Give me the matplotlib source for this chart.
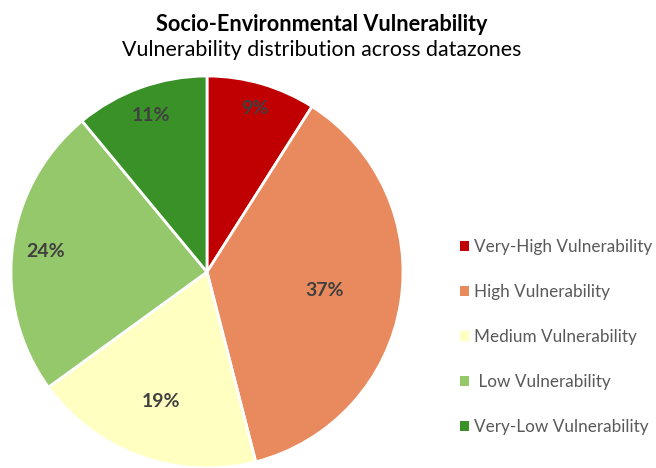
import matplotlib.pyplot as plt
import numpy as np

# vulnerability classes and their share of datazones (%)
categories = ['Very-High Vulnerability', 'High Vulnerability', 'Medium Vulnerability',
              ' Low Vulnerability', 'Very-Low Vulnerability']
shares = [9, 37, 19, 24, 11]
colors = ['#C00000', '#E9895E', '#FFFFC2', '#95C76B', '#3A9128']
# how far out each percentage label sits (fraction of radius)
label_radius = [0.87, 0.61, 0.70, 0.83, 0.85]

plt.rcParams['font.family'] = ['Lato', 'DejaVu Sans']

fig = plt.figure(figsize=(6.56, 4.68), dpi=100)
ax = fig.add_axes([(207 - 196) / 656, (468 - 272 - 196) / 468, 392 / 656, 392 / 468])

wedges, _ = ax.pie(shares, colors=colors, startangle=90, counterclock=False,
                   wedgeprops=dict(edgecolor='white', linewidth=2))
ax.set_aspect('equal')
ax.set_xlim(-1, 1)
ax.set_ylim(-1, 1)

# percentage labels at each wedge's mid angle
total = sum(shares)
start = 0.0
for val, r in zip(shares, label_radius):
    mid = (start + val / 2) / total * 2 * np.pi
    x = r * np.sin(mid)
    y = r * np.cos(mid)
    ax.text(x, y, '%d%%' % val, ha='center', va='center', fontsize=14,
            fontweight='bold', color='#404040')
    start += val

fig.text(0.49, 0.947, 'Socio-Environmental Vulnerability', ha='center', va='center',
         fontsize=15.6, fontweight='bold', color='black')
fig.text(0.49, 0.893, 'Vulnerability distribution across datazones', ha='center',
         va='center', fontsize=15.4, color='black')

leg = fig.legend(wedges, categories, loc='center left', bbox_to_anchor=(0.694, 0.28),
                 frameon=False, fontsize=12.3, labelspacing=1.7, handlelength=0.5,
                 handleheight=0.5, handletextpad=0.3, borderaxespad=0, borderpad=0.3)
for t in leg.get_texts():
    t.set_color('#595959')
for h in leg.legend_handles:
    h.set_edgecolor('none')

fig.savefig('out.png', dpi=100)
